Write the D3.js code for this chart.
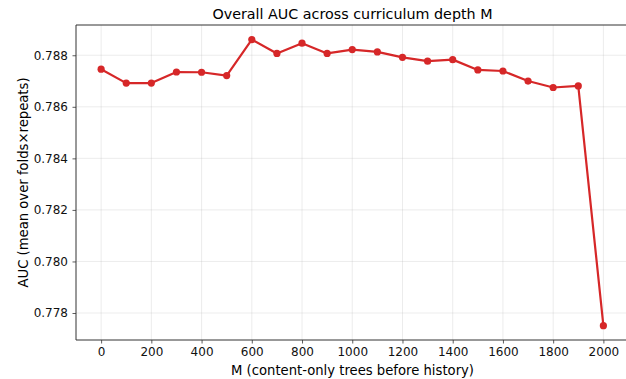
<!DOCTYPE html>
<html><head><meta charset="utf-8">
<script src="https://cdn.jsdelivr.net/npm/d3@7"></script>
<style>
html,body{margin:0;padding:0;background:#fff;}
svg{display:block;font-family:"DejaVu Sans",sans-serif;}
</style></head>
<body><svg id="c" width="626" height="379"></svg>
<script>
const depthM = [0,100,200,300,400,500,600,700,800,900,1000,1100,1200,1300,1400,1500,1600,1700,1800,1900,2000];
const aucValues = [0.78746,0.78692,0.78692,0.78735,0.78734,0.78721,0.78861,0.78807,0.78847,0.78807,0.78822,0.78813,0.78792,0.78777,0.78783,0.78743,0.78739,0.78700,0.78675,0.78681,0.77751];
const xTicks = [0,200,400,600,800,1000,1200,1400,1600,1800,2000];
const yTicks = [0.778,0.780,0.782,0.784,0.786,0.788];
const titleText = "Overall AUC across curriculum depth M";
const xLabel = "M (content-only trees before history)";
const yLabel = "AUC (mean over folds×repeats)";

const svg = d3.select("#c");
const L = 76, T = 25, B = 340, R = 628.5;
const x = d3.scaleLinear().domain([-100,2100]).range([L,R]);
const y = d3.scaleLinear().domain([0.776953,0.789174]).range([B,T]);
const red = "#d62728";

const g = svg.append("g");
g.selectAll(".gx").data(xTicks).enter().append("line")
 .attr("x1",d=>x(d)).attr("x2",d=>x(d)).attr("y1",T).attr("y2",B)
 .attr("stroke","#b0b0b0").attr("stroke-opacity",0.3).attr("stroke-width",0.8);
g.selectAll(".gy").data(yTicks).enter().append("line")
 .attr("x1",L).attr("x2",R).attr("y1",d=>y(d)).attr("y2",d=>y(d))
 .attr("stroke","#b0b0b0").attr("stroke-opacity",0.3).attr("stroke-width",0.8);

const xa = svg.append("g").attr("transform",`translate(0,${B})`)
 .call(d3.axisBottom(x).tickValues(xTicks).tickSize(3.5).tickPadding(4).tickFormat(d3.format("d")));
const ya = svg.append("g").attr("transform",`translate(${L},0)`)
 .call(d3.axisLeft(y).tickValues(yTicks).tickSize(3.5).tickPadding(4.5).tickFormat(d3.format(".3f")));
[xa,ya].forEach(a=>{
  a.selectAll("text").attr("font-size",12).attr("fill","#111").attr("font-family","DejaVu Sans");
  a.selectAll("line").attr("stroke","#333").attr("stroke-width",0.8);
  a.select(".domain").remove();
});
svg.append("line").attr("x1",L).attr("x2",L).attr("y1",T).attr("y2",B).attr("stroke","#333").attr("stroke-width",1);
svg.append("line").attr("x1",L).attr("x2",R).attr("y1",B).attr("y2",B).attr("stroke","#333").attr("stroke-width",1);
svg.append("line").attr("x1",L).attr("x2",R).attr("y1",T).attr("y2",T).attr("stroke","#333").attr("stroke-width",1);

const data = depthM.map((m,i)=>({m, v:aucValues[i]}));
svg.append("path").datum(data)
 .attr("fill","none").attr("stroke",red).attr("stroke-width",2.2).attr("stroke-linejoin","round")
 .attr("d",d3.line().x(d=>x(d.m)).y(d=>y(d.v)));
svg.selectAll(".pt").data(data).enter().append("circle")
 .attr("cx",d=>x(d.m)).attr("cy",d=>y(d.v)).attr("r",3.6).attr("fill",red);

svg.append("text").attr("x",352.5).attr("y",18.8).attr("text-anchor","middle")
 .attr("font-size",14.3).attr("fill","#000").text(titleText);
svg.append("text").attr("x",352.5).attr("y",374.5).attr("text-anchor","middle")
 .attr("font-size",13.2).attr("fill","#000").text(xLabel);
svg.append("text").attr("transform",`translate(28.3,${(T+B)/2}) rotate(-90)`).attr("text-anchor","middle")
 .attr("font-size",13.2).attr("fill","#000").text(yLabel);
</script></body></html>
